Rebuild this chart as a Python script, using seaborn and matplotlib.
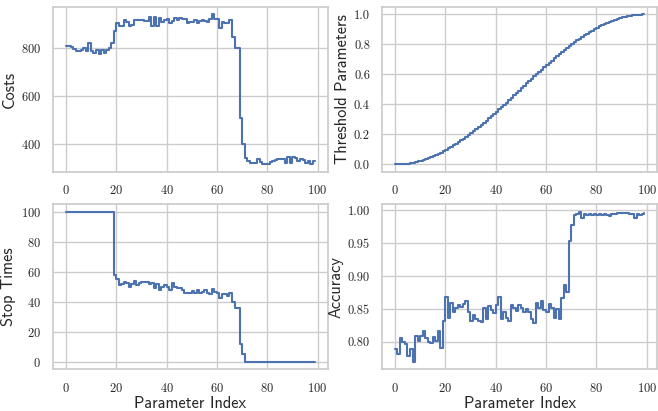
import matplotlib
matplotlib.use("Agg")
import matplotlib.pyplot as plt
import seaborn as sns
import pandas as pd

sns.set_theme(style="whitegrid")
plt.rcParams['axes.formatter.use_mathtext'] = True

param_index = list(range(100))

costs = [808, 807, 806, 797, 788, 788, 793, 800, 786, 822,
         786, 779, 793, 776, 790, 780, 792, 800, 821, 870,
         903, 892, 892, 916, 908, 893, 896, 917, 915, 915,
         915, 912, 912, 928, 890, 928, 892, 924, 910, 915,
         920, 905, 912, 925, 915, 925, 920, 922, 905, 907,
         910, 918, 905, 912, 918, 912, 907, 920, 940, 922,
         922, 885, 908, 905, 906, 915, 845, 800, 800, 508,
         400, 340, 328, 320, 321, 322, 336, 325, 318, 318,
         318, 325, 330, 333, 336, 338, 337, 322, 347, 323,
         344, 343, 330, 336, 335, 320, 330, 315, 328, 330]

thresholds = [0.000, 0.000, 0.001, 0.002, 0.004, 0.006, 0.009, 0.012, 0.016, 0.020,
              0.025, 0.030, 0.036, 0.042, 0.049, 0.056, 0.063, 0.071, 0.079, 0.088,
              0.097, 0.107, 0.117, 0.127, 0.138, 0.149, 0.161, 0.173, 0.185, 0.197,
              0.210, 0.223, 0.236, 0.250, 0.264, 0.278, 0.292, 0.307, 0.322, 0.337,
              0.352, 0.367, 0.382, 0.398, 0.413, 0.429, 0.445, 0.460, 0.476, 0.492,
              0.508, 0.524, 0.540, 0.555, 0.571, 0.587, 0.602, 0.618, 0.633, 0.648,
              0.663, 0.678, 0.693, 0.708, 0.722, 0.736, 0.750, 0.764, 0.777, 0.790,
              0.803, 0.815, 0.827, 0.839, 0.851, 0.862, 0.873, 0.883, 0.893, 0.903,
              0.912, 0.921, 0.929, 0.937, 0.944, 0.951, 0.958, 0.964, 0.970, 0.975,
              0.980, 0.984, 0.988, 0.991, 0.994, 0.996, 0.998, 0.999, 1.000, 1.000]

stop_times = [100] * 19 + [
    58, 55, 51, 51.5, 53, 52.5, 50, 51.5, 54, 51,
    52.5, 53, 53, 53, 51.5, 52.5, 49, 52, 48, 50,
    51, 50, 47.5, 52.5, 50, 49, 49, 48, 46, 46,
    46, 47, 46, 47.5, 46, 46.5, 47.5, 46, 45, 48.5,
    46.5, 46, 42.5, 45, 45, 44, 45.5, 40, 36, 36,
    12, 5] + [0] * 29

accuracy = [0.789, 0.781, 0.806, 0.800, 0.796, 0.779, 0.789, 0.770, 0.809, 0.802,
            0.809, 0.816, 0.806, 0.800, 0.799, 0.807, 0.802, 0.816, 0.790, 0.832,
            0.868, 0.836, 0.859, 0.846, 0.851, 0.856, 0.853, 0.857, 0.862, 0.845,
            0.831, 0.841, 0.834, 0.832, 0.830, 0.852, 0.835, 0.855, 0.849, 0.844,
            0.856, 0.868, 0.834, 0.845, 0.836, 0.831, 0.856, 0.851, 0.847, 0.856,
            0.851, 0.846, 0.850, 0.846, 0.834, 0.829, 0.859, 0.851, 0.862, 0.849,
            0.846, 0.857, 0.851, 0.836, 0.850, 0.835, 0.866, 0.887, 0.876, 0.954,
            0.978, 0.993, 0.995, 0.998, 0.989, 0.995, 0.993, 0.995, 0.993, 0.994,
            0.993, 0.995, 0.993, 0.995, 0.993, 0.991, 0.994, 0.995, 0.996, 0.996,
            0.996, 0.996, 0.996, 0.995, 0.994, 0.988, 0.994, 0.993, 0.995, 0.996]

df = pd.DataFrame({
    "idx": param_index,
    "Costs": costs,
    "Threshold Parameters": thresholds,
    "Stop Times": stop_times,
    "Accuracy": accuracy,
})

fig, axes = plt.subplots(2, 2, figsize=(6.58, 4.11), dpi=100)
fig.subplots_adjust(left=0.081, right=0.998, top=0.983, bottom=0.102,
                    wspace=0.2, hspace=0.195)

panels = [("Costs", axes[0, 0], None),
          ("Threshold Parameters", axes[0, 1], None),
          ("Stop Times", axes[1, 0], "Parameter Index"),
          ("Accuracy", axes[1, 1], "Parameter Index")]

for col, ax, xl in panels:
    sns.lineplot(data=df, x="idx", y=col, ax=ax, color="#4c72b0",
                 linewidth=1.5, drawstyle="steps-post")
    ax.set_ylabel(col, fontfamily="cmss10", fontsize=11.8, labelpad=3)
    ax.set_xlabel(xl if xl else "", fontfamily="cmss10", fontsize=11.8, labelpad=1)
    ax.set_xticks([0, 20, 40, 60, 80, 100])
    ax.tick_params(axis="both", pad=3)

axes[0, 0].set_yticks([400, 600, 800])
axes[0, 1].set_yticks([0.0, 0.2, 0.4, 0.6, 0.8, 1.0])
axes[0, 1].yaxis.set_major_formatter(matplotlib.ticker.FormatStrFormatter('%.1f'))
axes[1, 0].set_yticks([0, 20, 40, 60, 80, 100])
axes[1, 1].set_yticks([0.80, 0.85, 0.90, 0.95, 1.00])
axes[1, 1].yaxis.set_major_formatter(matplotlib.ticker.FormatStrFormatter('%.2f'))
for ax in axes.flat:
    for lab in ax.get_xticklabels() + ax.get_yticklabels():
        lab.set_fontfamily("cmr10")
        lab.set_fontsize(9)

fig.savefig("out.png", dpi=100)
